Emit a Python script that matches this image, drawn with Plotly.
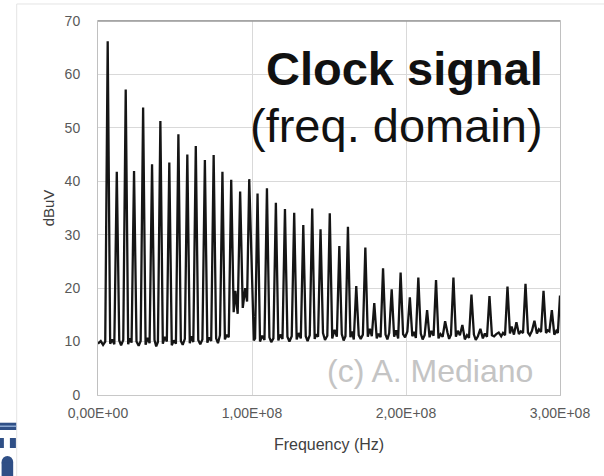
import numpy as np
import plotly.graph_objects as go

# Spectrum trace of the clock signal: frequency (MHz) and level (dBuV)
freq_mhz = [
    0.0, 1.8, 3.3, 4.7,
    6.3, 7.9, 9.2, 10.6,
    12.2, 13.8, 15.0, 16.4,
    18.0, 19.6, 20.6, 21.8,
    23.4, 25.0, 26.4, 27.7,
    29.3, 30.9, 32.2, 33.5,
    35.1, 36.7, 37.8, 38.9,
    40.5, 42.1, 43.4, 44.7,
    46.3, 47.9, 49.2, 50.6,
    52.2, 53.8, 55.0, 56.4,
    58.0, 59.6, 60.7, 61.9,
    63.5, 65.1, 66.4, 67.8,
    69.4, 71.0, 72.2, 73.5,
    75.1, 76.7, 77.9, 79.2,
    80.8, 82.4, 83.6, 84.9,
    86.5, 88.1, 89.2, 90.7,
    92.3, 94.0, 95.6, 96.8,
    98.2, 100.2, 101.2, 102.0,
    103.6, 105.2, 106.6, 108.1,
    109.7, 111.3, 112.5, 113.9,
    115.5, 117.1, 118.3, 119.8,
    121.4, 123.0, 124.3, 125.8,
    127.4, 129.0, 130.3, 131.7,
    133.3, 134.9, 136.1, 137.5,
    139.1, 140.7, 141.7, 142.9,
    144.5, 146.1, 147.4, 148.9,
    150.5, 152.1, 153.6, 155.1,
    156.7, 158.3, 159.5, 160.7,
    162.3, 163.9, 164.9, 166.1,
    167.7, 169.3, 170.6, 172.0,
    173.6, 175.2, 176.5, 177.8,
    179.4, 181.0, 182.2, 183.5,
    185.1, 186.7, 187.9, 189.1,
    190.7, 192.3, 193.6, 194.9,
    196.5, 198.1, 199.4, 200.9,
    202.5, 204.1, 205.2, 206.4,
    208.0, 209.6, 210.8, 212.1,
    213.7, 215.3, 216.5, 217.9,
    219.5, 221.1, 222.4, 223.8,
    225.4, 227.0, 228.0, 229.2,
    230.8, 232.4, 233.6, 235.0,
    236.6, 238.2, 239.6, 240.9,
    242.5, 244.1, 245.3, 246.7,
    248.3, 249.9, 251.2, 252.6,
    254.2, 255.8, 257.2, 258.6,
    260.2, 261.8, 263.0, 264.3,
    265.9, 267.5, 268.6, 270.1,
    271.7, 273.3, 274.6, 276.0,
    277.6, 279.2, 280.4, 281.8,
    283.4, 285.0, 286.3, 287.7,
    289.3, 290.9, 292.0, 293.1,
    294.7, 296.3, 297.6, 298.6,
    300.0,
]

level_dbuv = [
    9.6, 10.1, 9.4, 10.0,
    66.2, 9.6, 10.4, 9.5,
    41.8, 10.2, 9.3, 10.3,
    57.2, 9.5, 10.6, 9.8,
    41.9, 10.0, 9.2, 10.1,
    53.8, 9.4, 10.7, 9.7,
    43.2, 10.3, 9.1, 9.9,
    51.3, 9.6, 10.9, 10.0,
    43.5, 9.3, 10.2, 9.6,
    48.8, 10.1, 9.4, 10.5,
    45.0, 9.7, 11.0, 9.9,
    46.6, 10.3, 9.5, 10.4,
    44.0, 9.8, 10.8, 10.1,
    44.9, 10.6, 9.7, 11.2,
    41.8, 10.4, 11.3, 10.8,
    40.3, 15.5, 19.5, 15.2,
    38.1, 16.3, 20.0, 17.5,
    40.4, 22.5, 10.2, 10.6,
    37.7, 10.0, 11.1, 10.3,
    38.7, 10.8, 9.9, 10.6,
    36.0, 10.2, 11.3, 10.5,
    34.8, 10.9, 10.0, 11.0,
    34.1, 10.4, 11.6, 10.6,
    31.8, 11.0, 10.1, 11.2,
    34.9, 10.5, 11.4, 10.9,
    31.0, 11.6, 10.3, 11.1,
    34.0, 10.6, 12.2, 10.9,
    27.9, 11.4, 10.2, 11.0,
    31.5, 10.8, 11.9, 10.4,
    20.4, 11.2, 10.5, 11.3,
    27.6, 10.9, 12.4, 11.0,
    17.2, 10.6, 11.5, 10.8,
    23.7, 11.3, 10.4, 11.6,
    19.8, 10.9, 12.1, 10.6,
    22.9, 11.4, 10.8, 11.9,
    18.3, 11.0, 11.8, 10.7,
    22.0, 11.5, 10.4, 11.2,
    15.9, 10.8, 12.0, 11.1,
    21.5, 10.6, 11.4, 10.9,
    13.8, 11.6, 10.5, 11.3,
    22.0, 10.9, 12.0, 11.2,
    13.1, 10.4, 11.2, 10.7,
    18.8, 11.3, 10.3, 11.0,
    12.4, 10.6, 11.5, 10.9,
    18.5, 11.2, 11.0, 11.4,
    11.7, 11.0, 11.6, 11.2,
    20.3, 11.5, 12.8, 11.3,
    13.6, 11.4, 11.9, 11.6,
    20.8, 11.7, 11.2, 12.0,
    13.9, 11.5, 12.3, 11.8,
    19.5, 11.6, 12.1, 11.9,
    15.9, 11.3, 12.0, 11.6,
    18.6,
]

x_tick_vals = [0, 1e8, 2e8, 3e8]
x_tick_text = ["0,00E+00", "1,00E+08", "2,00E+08", "3,00E+08"]
y_tick_vals = [0, 10, 20, 30, 40, 50, 60, 70]

freq_hz = np.array(freq_mhz) * 1e6

TICK_FONT = dict(family="Liberation Sans", size=14, color="#595959")

fig = go.Figure()
fig.add_trace(go.Scatter(
    x=freq_hz, y=level_dbuv, mode="lines",
    line=dict(color="#151515", width=2.3),
    showlegend=False, hoverinfo="skip",
))

fig.update_layout(
    width=604, height=476,
    margin=dict(l=98, r=44, t=21, b=81),
    paper_bgcolor="white", plot_bgcolor="white",
    xaxis=dict(
        range=[0, 3e8], tickvals=x_tick_vals, ticktext=x_tick_text,
        showgrid=True, gridcolor="#d9d9d9", gridwidth=1,
        zeroline=False, showline=True, linecolor="#c8c8c8", linewidth=1,
        mirror=True, ticks="", tickfont=TICK_FONT, ticklabelstandoff=5,
        title=dict(text="Frequency (Hz)", standoff=19,
                   font=dict(family="Liberation Sans", size=16, color="#404040")),
    ),
    yaxis=dict(
        range=[0, 70], tickvals=y_tick_vals,
        showgrid=True, gridcolor="#d9d9d9", gridwidth=1,
        zeroline=False, showline=True, linecolor="#c0c0c0", linewidth=1,
        mirror=True, ticks="", tickfont=TICK_FONT, ticklabelstandoff=14,
        title=dict(text="dBuV", standoff=6,
                   font=dict(family="Liberation Sans", size=15, color="#404040")),
    ),
)

# darker frame line along the top of the plot area
fig.add_shape(type="line", xref="paper", yref="paper", x0=0, x1=1, y0=1, y1=1,
              line=dict(color="#9a9a9a", width=1.5))

# faint chart-area border
fig.add_shape(type="line", xref="paper", yref="paper",
              x0=-0.176, x1=1.1, y0=1.0455, y1=1.0455,
              line=dict(color="#e4e4e4", width=1))
fig.add_shape(type="line", xref="paper", yref="paper",
              x0=-0.176, x1=-0.176, y0=1.0455, y1=-0.24,
              line=dict(color="#e4e4e4", width=1))

# corner logo
LOGO = "#2f4f86"
fig.add_shape(type="rect", xref="paper", yref="paper",
              x0=-0.213, x1=-0.177, y0=-0.0741, y1=-0.0936,
              fillcolor=LOGO, line=dict(width=0))
fig.add_shape(type="rect", xref="paper", yref="paper",
              x0=-0.213, x1=-0.177, y0=-0.0815, y1=-0.0855,
              fillcolor="#8aa6d0", line=dict(width=0))
fig.add_shape(type="rect", xref="paper", yref="paper",
              x0=-0.213, x1=-0.2037, y0=-0.115, y1=-0.1417,
              fillcolor=LOGO, line=dict(width=0))
fig.add_shape(type="rect", xref="paper", yref="paper",
              x0=-0.1907, x1=-0.1777, y0=-0.115, y1=-0.1417,
              fillcolor=LOGO, line=dict(width=0))
fig.add_shape(type="circle", xref="paper", yref="paper",
              x0=-0.2087, x1=-0.1836, y0=-0.1631, y1=-0.195,
              fillcolor=LOGO, line=dict(width=0))
fig.add_shape(type="rect", xref="paper", yref="paper",
              x0=-0.2087, x1=-0.1836, y0=-0.18, y1=-0.25,
              fillcolor=LOGO, line=dict(width=0))

fig.add_annotation(text="<b>Clock signal</b>", xref="paper", yref="paper",
                   x=0.9686, y=0.8725, xanchor="right", yanchor="middle",
                   showarrow=False,
                   font=dict(family="Liberation Sans", size=47, color="#111111"))
fig.add_annotation(text="(freq. domain)", xref="paper", yref="paper",
                   x=0.9686, y=0.7209, xanchor="right", yanchor="middle",
                   showarrow=False,
                   font=dict(family="Liberation Sans", size=47, color="#111111"))
fig.add_annotation(text="(c) A. Mediano", xref="paper", yref="paper",
                   x=0.9469, y=0.0652, xanchor="right", yanchor="middle",
                   showarrow=False,
                   font=dict(family="Liberation Sans", size=32, color="#c4c4c4"))

fig.write_html("out.html")
